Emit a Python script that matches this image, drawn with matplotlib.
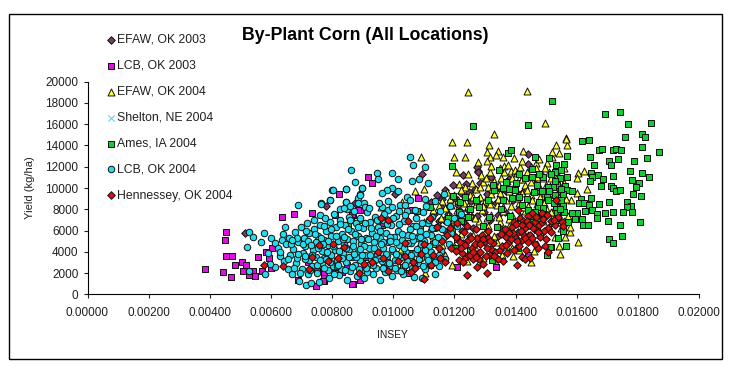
import matplotlib
matplotlib.use('Agg')
import matplotlib.pyplot as plt
from matplotlib.patches import Rectangle

plt.rcParams['font.family'] = ['Liberation Sans', 'DejaVu Sans']

# puntos leidos a ojo del grafico: (INSEY, yield)
efaw_03 = [(.00514,5750),(.00781,8280),(.00875,8625),(.01006,9400),(.01095,11290),(.01227,11200),(.01276,11630),
    (.01442,13170),(.0144,12260),(.01273,11950),(.01278,11480),(.0132,11060),(.01125,8700),(.01142,9300),(.01155,8200),
    (.01168,9800),(.01178,7600),(.01188,8900),(.01196,10300),(.01205,7200),(.01212,8400),(.01222,9500),(.01232,6700),
    (.01238,10400),(.01245,7900),(.01255,8800),(.01262,6200),(.01268,9900),(.01275,7400),(.01285,10500),(.01292,8300),
    (.01302,5800),(.01305,9400),(.01318,7000),(.01322,10200),(.01335,8600),(.01345,6300),(.01352,9800),(.01365,7700),
    (.01378,10800),(.01392,8900),(.01408,6700),(.01425,9600),(.0144,7900),(.01462,10900),(.01135,5200),(.01172,5900),
    (.01228,4800),(.01295,5000),(.01148,6900),(.01158,9000),(.01182,8300),(.01202,9100),(.01218,7800),(.01248,9600),
    (.01258,7300),(.01282,9000),(.01298,7700),(.01312,8700),(.01328,9800),(.01342,7500),(.01358,8900),(.0137,9700),
    (.01132,7600),(.01165,7000),(.01192,6500),(.01225,6000),(.01252,5500),(.01338,5400)]

lcb_03 = [(.00383,2400),(.00443,2060),(.00468,1660),(.00454,5900),(.0045,5150),(.00454,3650),(.00474,3650),(.00483,2720),
    (.00504,3030),(.00507,2190),(.00518,2720),(.00527,1780),(.00541,2190),(.00547,1690),(.00559,3470),(.0057,2190),
    (.00595,3375),(.00585,3940),(.00599,2500),(.00603,4310),(.00637,7250),(.00674,7590),(.00735,7690),(.00688,1340),
    (.00746,780),(.00772,1250),(.00772,1810),(.0081,1970),(.00823,9470),(.00867,970),(.00834,2060),(.0089,7900),
    (.00867,7500),(.0081,7440),(.00892,1340),(.00918,11000),(.00931,10500),(.01082,9090),(.00962,6500),(.0106,7920),
    (.01057,3880),(.01137,3400),(.01207,2600),(.01336,2570),(.0144,3700),(.00775,2130),(.00771,1280),(.00866,940),
    (.00866,7460),(.00862,6990),(.00885,7920),(.00967,6700),(.0112,2760),(.0108,2940),(.0072,3000),(.0075,2200),
    (.0085,2800),(.0091,3500),(.0097,2500),(.0098,3000),(.0105,2000)]

efaw_04 = [(.01246,19000),(.01437,19120),(.01497,16120),(.0133,15050),(.01191,14300),(.01242,14300),(.01091,12940),
    (.01198,12940),(.01236,12940),(.01564,14670),(.01567,14040),(.01531,14040),(.01312,14040),(.01308,13410),(.01342,13480),
    (.01316,12940),(.01335,13070),(.01358,12940),(.01395,12820),(.01424,13480),(.01278,12420),(.01414,12000),(.01467,12350),
    (.01502,12320),(.01518,12940),(.01543,13320),(.01478,12700),(.01624,11600),(.01603,11380),(.016,10900),(.01558,11910),
    (.01204,11480),(.01246,11290),(.01286,11220),(.01316,11530),(.01363,12100),(.01363,11480),(.01384,11600),(.01398,11690),
    (.01436,11530),(.01466,11850),(.01496,11850),(.01529,11060),(.01605,4950),(.01545,3790),(.01543,4540),(.0145,3070),
    (.01295,3440),(.01355,3700),(.01392,3630),(.01191,2760),(.01104,1980),(.01461,4070),(.01578,5890),(.01562,5420),
    (.01267,4420),(.01338,4950),(.01387,4330),(.01635,9930),(.01602,9500),(.0158,8870),(.01578,6360),(.01565,14610),
    (.0152,13360),(.0147,11000),(.0149,10900),(.01515,10950),(.01545,10700),(.01215,10400),(.01235,10100),(.01258,10500),
    (.01272,9900),(.01295,10600),(.0131,10100),(.0133,10700),(.01345,10300),(.01372,10700),(.01395,10200),(.0141,10800),
    (.0143,10300),(.0145,10600),(.0148,10000),(.015,10300),(.0153,9900),(.0155,9400),(.01565,9000),(.01175,9600),
    (.012,9300),(.0122,9800),(.0125,9300),(.01285,9200),(.0132,9400),(.0135,9500),(.0138,9700),(.0142,9500),
    (.0145,9300),(.0148,9200),(.0152,9100),(.0154,8700),(.0116,8800),(.0119,8400),(.0123,8600),(.0127,8500),(.0130,8800),
    (.0134,8400),(.0137,8900),(.0141,8600),(.0144,8300),(.0147,8500),(.0150,8100),(.0153,8200),(.01555,7900),(.0113,7900),
    (.0118,7500),(.0121,7900),(.0125,7600),(.0129,7900),(.0132,7500),(.0136,7800),(.0139,7500),(.0143,7800),(.0146,7300),
    (.0149,6900),(.0152,7200),(.0156,6900),(.0157,7400),(.011,6800),(.0115,6500),(.012,6900),(.0124,6500),(.0128,6900),
    (.0131,6400),(.0135,6800),(.0138,6400),(.0141,6800),(.0145,6700),(.0151,6300),(.0155,6200),(.0108,5700),(.0113,5500),
    (.0118,5900),(.0122,5700),(.0126,5600),(.0130,5900),(.0133,5500),(.0137,5800),(.0140,5500),(.0144,5600),(.0148,5900),
    (.0153,5400),(.01158,4600),(.0120,4500),(.0124,3100),(.0128,3000),(.0133,3300),(.0137,4500),(.0141,4200),(.0147,4700),
    (.01025,4300),(.0098,3100),(.0106,3400),(.0112,3000),(.0117,3700),(.0096,8200),(.0103,8700),(.0107,9700),(.0110,9900),
    (.01305,12500),(.0132,12100),(.01348,11900),(.01375,12200),(.01405,11400),(.0142,12500),(.0145,12000),(.01485,11300),
    (.0151,11500),(.0154,11200),(.0156,10500),(.01285,10100),(.01302,10900),(.01322,9900),(.01352,10900),(.01365,10000),
    (.01388,10900),(.01402,9900),(.01422,10800),(.01438,9800),(.01465,9700),(.01495,9500),(.01512,10200),(.01535,9400),
    (.01262,9200),(.01275,8800),(.01295,8300),(.01315,8500),(.01342,9000),(.01358,8200),(.01385,8300),(.01405,9100),
    (.01425,8200),(.01455,8900),(.01475,7900),(.01492,8600),(.01515,7700),(.01538,7800),(.01245,8300),(.01212,8900),
    (.01185,9000),(.01155,7200),(.01195,7100),(.01228,7300),(.01268,7200),(.01305,7200),(.01345,7300),(.01378,7100),
    (.01415,7400),(.01455,7000),(.01148,8300),(.01168,8100),(.01125,6300)]

shelton_04 = [(.0072,3800),(.0081,4400),(.0089,5100),(.0094,3600),(.0101,4700),(.0108,5200)]

ames_04 = [(.01519,18150),(.01694,16930),(.01743,17180),(.01767,15990),(.01844,16090),(.01758,14830),(.01815,15050),
    (.01824,14830),(.01618,14390),(.01639,14520),(.01815,13880),(.0187,13360),(.01673,13570),(.01684,13670),(.0172,13570),
    (.01729,13640),(.01746,13570),(.01642,12940),(.01658,12160),(.01706,12540),(.01713,12160),(.01734,12730),(.01786,12510),
    (.01831,12820),(.01775,11570),(.01815,11440),(.01837,11000),(.01648,11440),(.01669,11220),(.0165,11000),(.01643,10690),
    (.01687,10820),(.0172,11100),(.01782,10750),(.01805,10440),(.01793,10120),(.0168,10160),(.01713,10190),(.0172,9970),
    (.01729,9750),(.01743,9840),(.01785,9410),(.01811,9220),(.01647,9090),(.01614,8960),(.01608,8620),(.01624,8620),
    (.0164,8400),(.01673,8470),(.01706,8650),(.01763,8650),(.01778,8330),(.01765,8180),(.01651,7930),(.01628,7810),
    (.01694,7620),(.0172,7710),(.01752,7710),(.01782,7710),(.016,7620),(.01583,7620),(.01668,7550),(.01667,7210),
    (.01595,7060),(.01618,7060),(.01702,6870),(.01808,6770),(.01743,6520),(.01622,6520),(.01638,6520),(.01556,8330),
    (.01558,7770),(.01536,7710),(.01532,8240),(.0154,5270),(.01556,5980),(.01705,5170),(.0172,4830),(.01749,5510),
    (.01565,4540),(.01515,4420),(.01504,3700),(.01567,13040),(.01463,12940),(.01509,12790),(.01532,12160),(.01529,11530),
    (.01569,11060),(.01562,10220),(.01545,10910),(.01535,10280),(.01524,10120),(.01567,9810),(.01583,9720),(.01556,9410),
    (.01502,9180),(.01469,10120),(.01262,15800),(.01442,15930),(.01193,12100),(.01347,11690),(.01376,13320),(.01386,13570),
    (.01453,11790),(.01369,10540),(.01196,9250),(.01218,8650),(.01235,9180),(.0127,8870),(.0136,8870),(.01422,8400),
    (.01469,10280),(.01398,9810),(.01436,8940),(.01474,8240),(.01507,10120),(.01507,8870),(.01338,6360),(.01314,7300),
    (.01382,7390),(.01295,6430),(.01246,7300),(.01215,7770),(.01191,6050),(.01202,4330),(.01324,3230),(.01407,4330),
    (.01513,4480),(.01469,6050),(.01442,7930),(.01079,7840),(.0112,8240),(.01131,6210),(.01087,6110),(.01033,2600),
    (.00853,6520),(.00891,6990),(.0141,11300),(.0143,10900),(.0149,11000),(.0153,10700),(.0136,10000),(.0139,9100),
    (.0133,9800),(.0131,8900),(.0146,9600),(.0151,9700),(.0155,8900),(.0149,8100),(.0154,7200),(.0152,6700),(.0147,7200),
    (.0145,6800),(.0128,8200),(.0125,8000),(.0122,6900),(.0118,7200),(.0116,5200),(.0113,4700),(.0121,5200),(.0125,4200),
    (.01478,11300),(.01515,11300),(.01548,11700),(.0156,12300),(.01488,9700),(.01528,9300),(.01548,9900),(.01478,8700),
    (.01525,8600),(.01545,8000),(.01492,7500),(.01532,7000),(.01572,6800),(.01462,7700),(.01412,9200),(.01378,9900),
    (.01352,8000),(.01402,10500),(.01325,10300),(.01455,11000)]

lcb_04 = [(.01055,12940),(.01065,12190),(.01104,12000),(.00861,11660),(.00948,11380),(.00996,11380),(.00951,10820),
    (.01016,10820),(.00875,10590),(.01061,10690),(.01084,10820),(.01115,10440),(.00897,10030),(.00801,9840),(.00844,9930),
    (.00995,9970),(.00978,9810),(.01016,9720),(.00962,9500),(.00891,9410),(.00793,8870),(.00763,8620),(.00886,9030),
    (.00844,8710),(.00905,8620),(.01044,9130),(.00982,8800),(.01104,8960),(.00962,8180),(.00908,8180),(.00886,8560),
    (.00826,8000),(.00848,8000),(.00527,5875),(.00541,5400),(.00522,4410),(.00567,4875),(.00578,5780),(.00589,3840),
    (.006,5250),(.00614,2600),(.00581,1900),(.00598,2810),(.00527,2190),(.00647,6340),(.00639,5660),(.00688,8440),
    (.00764,8530),(.00794,8840),(.00802,9780),(.00845,9940),(.00897,10000),(.00845,8690),(.00892,9310),(.00612,4810),
    (.00622,4400),(.00628,3600),(.00635,5100),(.00642,3100),(.00648,4700),(.00655,2400),(.0066,5300),(.00662,3700),
    (.00668,1900),(.00672,4300),(.00678,5900),(.00682,2900),(.00686,3400),(.00688,4900),(.00692,1250),(.00698,6300),
    (.00702,2400),(.00706,3900),(.00708,5300),(.00712,4500),(.00715,900),(.00718,6700),(.0072,1900),(.00724,3200),
    (.00726,5800),(.00732,1100),(.00735,2700),(.00738,4200),(.0074,6100),(.00742,7000),(.00746,3500),(.00748,4900),
    (.00752,2000),(.00755,5500),(.00758,1200),(.0076,6500),(.00762,7500),(.00766,2900),(.00768,4100),(.00772,5100),
    (.00775,3400),(.00778,7200),(.0078,6000),(.00785,2300),(.00788,4600),(.0079,1500),(.00792,6800),(.00796,3700),
    (.00798,5500),(.00802,2700),(.00805,7600),(.00808,4200),(.00812,6300),(.00815,3200),(.00818,5000),(.00822,1800),
    (.00825,7000),(.00828,2400),(.00832,5700),(.00835,3900),(.00838,4700),(.0084,8100),(.00842,6500),(.00846,3000),
    (.00848,1300),(.0085,5200),(.00854,7300),(.00856,4300),(.0086,2200),(.00862,6000),(.00866,3500),(.00868,5000),
    (.00872,7800),(.00875,2800),(.00878,6700),(.0088,1700),(.00884,4000),(.00886,5500),(.0089,3200),(.00892,7200),
    (.00896,4700),(.00898,2300),(.00902,6200),(.00905,1500),(.00908,3700),(.0091,5300),(.00914,7700),(.00916,2800),
    (.0092,4400),(.00924,6800),(.00926,3300),(.0093,5800),(.00934,1900),(.00936,4900),(.0094,7300),(.00944,2500),
    (.00946,3800),(.0095,6300),(.00954,8600),(.00956,1300),(.00958,5300),(.00962,3100),(.00966,4400),(.00968,7000),
    (.00972,2100),(.00976,5800),(.00978,3600),(.00982,7900),(.00984,4900),(.00988,2700),(.00992,6500),(.00995,1700),
    (.00998,4100),(.01002,5400),(.01005,3200),(.01008,7400),(.01012,2300),(.01015,6000),(.01018,4600),(.01022,8400),
    (.01025,3500),(.01028,5100),(.01032,1900),(.01035,6900),(.01038,2800),(.01042,4000),(.01045,7800),(.01048,5600),
    (.01052,3300),(.01055,8900),(.01058,4800),(.01062,2500),(.01065,6400),(.01068,1600),(.01072,3900),(.01075,7200),
    (.01078,5300),(.01082,2900),(.01085,4400),(.01088,6000),(.01092,3400),(.01095,1500),(.01098,7700),(.01102,5000),
    (.01105,2400),(.01108,8300),(.01112,3800),(.01115,6700),(.01118,4500),(.01122,2900),(.01125,5600),(.01128,7300),
    (.01132,3500),(.01135,1900),(.01138,4900),(.01142,6300),(.01148,2700),(.01152,7800),(.01155,4100),(.01162,5300),
    (.01168,3300),(.01175,6800),(.01182,4700),(.0119,5800),(.012,7200),(.0121,6400),(.01135,8800),(.01165,9400),
    (.01185,8300),(.0122,7600),
    # relleno de la nube densa
    (.00655,3300),(.00665,4700),(.00675,2500),(.00685,5300),(.0069,3800),(.00695,2000),(.00705,4700),(.0071,3300),
    (.00715,6000),(.00722,5000),(.00728,2300),(.00735,3700),(.00745,5700),(.0075,2800),(.00755,4400),(.00762,3200),
    (.00765,5300),(.00772,2500),(.00775,6400),(.00782,4000),(.00785,5000),(.00792,3000),(.00795,6100),(.00802,4500),
    (.00805,1900),(.00812,5500),(.00815,2700),(.00822,4100),(.00825,6600),(.00832,3400),(.00835,5200),(.00842,2300),
    (.00845,4400),(.00852,6100),(.00855,3500),(.00858,7000),(.00865,2600),(.00868,4500),(.00875,5700),(.00878,3500),
    (.00885,6300),(.00888,2400),(.00895,5200),(.00898,3700),(.00905,4500),(.00908,6700),(.00915,2100),(.00918,5200),
    (.00925,3700),(.00928,6200),(.00935,2800),(.00938,4400),(.00945,5500),(.00948,7000),(.00955,3400),(.00958,6000),
    (.00965,2500),(.00968,4900),(.00975,3800),(.00978,6600),(.00985,2900),(.00988,5400),(.00995,4300),(.00998,7200),
    (.01005,2500),(.01008,4900),(.01015,3600),(.01018,6600),(.01025,2200),(.01028,5700),(.01035,4400),(.01038,7500),
    (.01045,3100),(.01048,4800),(.01055,6100),(.01058,3700),(.01065,5100),(.01068,2900),(.01075,6400),(.01078,4300),
    (.01085,3300),(.01088,5400),(.01095,6700),(.01098,2700),(.01105,4200),(.01108,5700),(.01115,3200),(.01118,7000),
    (.01125,4000),(.01128,6200),(.01138,3000),(.01145,5400),(.0115,3700),(.0116,6100),(.00995,8200),(.0104,8400),
    (.0092,8100),(.0086,8300),(.0097,7600),(.0102,7800),(.0107,7900),(.0073,4600),(.0078,3300),(.0084,5400),(.0089,4300),
    (.0094,3200),(.0099,5000),(.0104,2800),(.0109,4700),(.0106,5500),(.0101,3800),(.0096,4700),(.0091,2500),(.0087,3800),
    (.0082,2800),(.0077,4700),(.0071,3600),(.0067,5100),(.0063,4000)]

hennessey_04 = [(.00576,2750),(.00639,2660),(.00734,3530),(.00756,4620),(.00726,2340),(.00803,4690),(.00838,4470),
    (.00818,3440),(.00788,3125),(.00887,1970),(.00905,2810),(.00959,7150),(.00982,6990),(.01049,6900),(.0112,7150),
    (.01142,6360),(.00951,4010),(.00967,3440),(.00931,3010),(.00982,2190),(.01016,3130),(.01038,4790),(.01101,4700),
    (.01066,3010),(.01058,2070),(.01071,2440),(.01101,1410),(.01131,3700),(.01153,3390),(.01169,3010),(.01122,2760),
    (.01242,1820),(.01308,1980),(.01275,2600),(.01295,2850),(.01404,2760),(.0136,3130),(.01235,3390),(.01246,3700),
    (.01224,3860),(.01284,4010),(.01316,3700),(.01333,4010),(.01175,5580),(.01218,4950),(.01235,4640),(.01257,4330),
    (.01273,5270),(.01289,5580),(.01311,5270),(.01327,4790),(.01349,4170),(.0142,3540),(.01431,3320),(.01447,3390),
    (.01474,4380),(.01496,4540),(.01505,4010),(.01376,4790),(.01398,5420),(.0142,5110),(.01442,4950),(.0148,5420),
    (.01387,6360),(.01414,7150),(.01409,7930),(.01453,7620),(.01485,7620),(.01502,7460),(.01531,8870),(.01551,6830),
    (.01556,6450),(.01529,6520),(.01507,6210),(.01458,6210),(.01431,6210),(.01188,4400),(.01205,5400),(.01215,3200),
    (.0123,5900),(.01245,5100),(.01262,3300),(.01268,4700),(.0128,3300),(.01298,4900),(.01302,3600),(.0132,4300),
    (.01342,3300),(.01355,4500),(.01368,5400),(.01372,3900),(.01385,5200),(.01395,4200),(.01408,5900),(.01412,4500),
    (.01425,5700),(.01435,4200),(.01448,5600),(.01462,4700),(.01465,6800),(.01478,6500),(.01492,6000),(.01515,6900),
    (.0154,7300),(.01425,6900),(.01395,6800),(.0144,7400),(.01468,7300),(.01365,6100),(.01352,5700),(.0131,6000),
    (.0127,6100),(.0124,6400),(.0121,6700),(.01185,6200),(.0116,5000),(.0115,4400),(.0109,3800),(.0104,3600),
    (.01252,3700),(.01262,4000),(.01272,3500),(.01285,4700),(.01292,5200),(.01305,4400),(.01318,5000),(.0133,3600),
    (.01205,4100),(.01222,4400),(.01228,3000),(.01255,5300),(.01402,6600),(.0142,6500),(.01438,6900),(.01405,5000),
    (.01418,6000),(.01432,5300),(.01445,6500),(.01455,5300),(.01472,5900),(.01488,6800),(.01498,5200),(.01392,5800),
    (.01378,5800),(.01368,4600),(.0149,7100),(.01525,7000),(.01515,5900)]

legend_labels = ['EFAW, OK 2003', 'LCB, OK 2003', 'EFAW, OK 2004', 'Shelton, NE 2004', 'Ames, IA 2004', 'LCB, OK 2004', 'Hennessey, OK 2004']
x_ticks = [0.0, 0.002, 0.004, 0.006, 0.008, 0.01, 0.012, 0.014, 0.016, 0.018, 0.02]
y_ticks = [0, 2000, 4000, 6000, 8000, 10000, 12000, 14000, 16000, 18000, 20000]

fig = plt.figure(figsize=(7.29, 3.70), dpi=100)
ax = fig.add_axes([87.5/729, (370-294.3)/370, 611.5/729, 212.6/370])

estilos = [
    (efaw_03, 'D', '#7A3B66', 15),
    (lcb_03, 's', '#DD11DD', 21),
    (efaw_04, '^', '#FFFF33', 25),
    (shelton_04, 'x', '#33DDEE', 20),
    (ames_04, 's', '#11CC33', 21),
    (lcb_04, 'o', '#22DDEE', 22),
    (hennessey_04, 'D', '#DD1111', 15),
]
handles = []
for i, (serie, marker, color, size) in enumerate(estilos):
    xs = [p[0] for p in serie]
    ys = [p[1] for p in serie]
    if marker == 'x':
        h = ax.scatter(xs, ys, marker=marker, c=color, s=size, linewidths=0.7, zorder=i+2)
    else:
        h = ax.scatter(xs, ys, marker=marker, c=color, s=size, edgecolors='#101010', linewidths=0.7, zorder=i+2)
    handles.append(h)

ax.set_xlim(0, 0.02)
ax.set_ylim(0, 20000)
ax.set_xticks(x_ticks)
ax.set_xticklabels(['%.5f' % v for v in x_ticks])
ax.set_yticks(y_ticks)
ax.tick_params(labelsize=8.5, length=3, width=0.8, colors='#202020')
ax.tick_params(axis='x', pad=6.5)
ax.tick_params(axis='y', pad=3.5)
ax.spines['top'].set_visible(False)
ax.spines['right'].set_visible(False)
ax.set_xlabel('INSEY', fontsize=7.4, color='#202020')
ax.xaxis.set_label_coords((392-87.5)/611.5, -(335-294.3)/212.6, transform=ax.transAxes)
ax.xaxis.label.set_va('center')
ax.set_ylabel('Yield (kg/ha)', fontsize=8, color='#202020')
ax.yaxis.set_label_coords((35-87.5)/611.5, 0.5)

fig.text(365/729, 1-36/370, 'By-Plant Corn (All Locations)', fontsize=12.8, fontweight='bold', ha='center', va='center')

leg = fig.legend(handles, legend_labels, loc='upper left', bbox_to_anchor=(105/729, 1-34/370), frameon=False,
    fontsize=8.8, labelspacing=1.14, handletextpad=0.1, borderpad=0, borderaxespad=0, handlelength=0.9, scatterpoints=1)
for t in leg.get_texts():
    t.set_color('#202020')

# marco negro alrededor del grafico
fig.add_artist(Rectangle((8.5/729, 1-359/370), (721.6-8.5)/729, (359-13.5)/370, transform=fig.transFigure,
    fill=False, edgecolor='black', linewidth=1.0))

fig.savefig('out.png', dpi=100)
